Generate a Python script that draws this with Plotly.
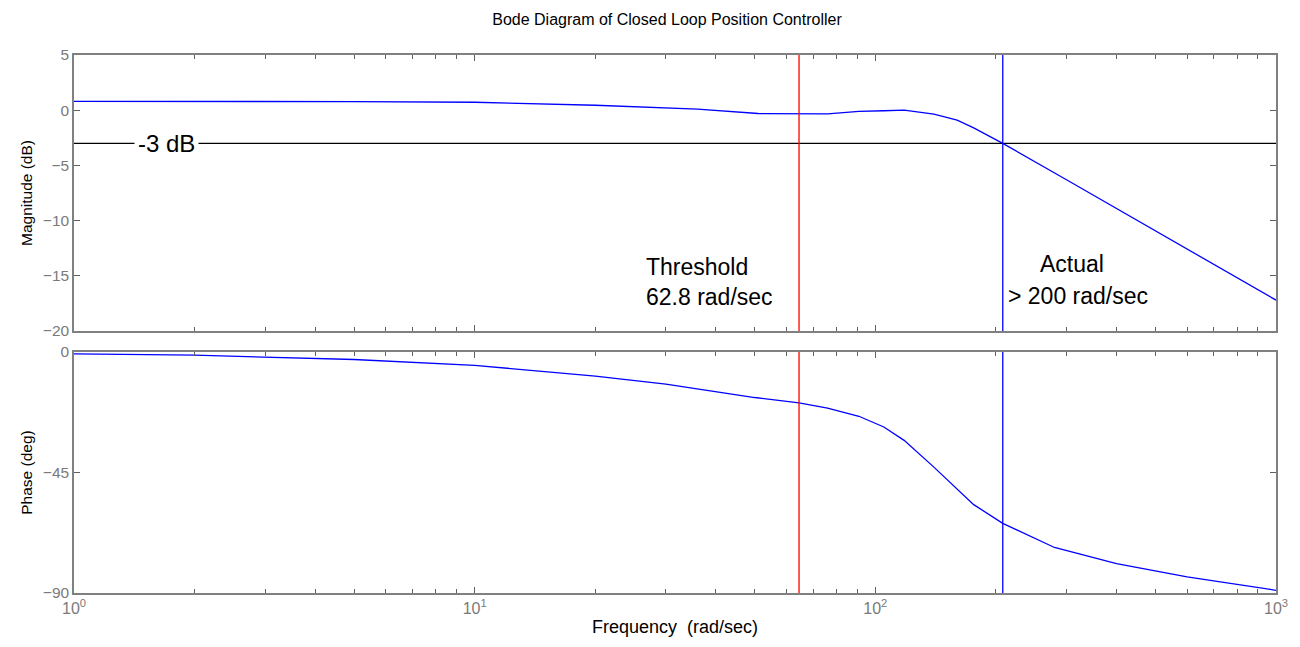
import plotly.graph_objects as go
from plotly.subplots import make_subplots

# ---- data ----
mag_freq = [1, 2, 5, 10, 20, 36, 51, 76, 91, 105, 118, 140, 160, 176, 208, 300, 500, 700, 1000]
mag_db = [0.8, 0.8, 0.78, 0.72, 0.45, 0.1, -0.3, -0.34, -0.1, -0.05, 0.0, -0.36, -0.9, -1.6, -3.0, -6.3, -10.9, -14.0, -17.2]

ph_freq = [1, 2, 5, 10, 20, 30, 50, 64.5, 76, 91, 105, 118, 140, 176, 208, 280, 400, 600, 1000]
ph_deg = [-0.7, -1.2, -2.8, -5, -9, -12, -17, -19, -21, -24, -28, -33, -43, -57, -64, -73, -79, -84, -89]

threshold_freq = 64.5   # red marker line as drawn
actual_freq = 208       # blue marker line as drawn
cutoff_db = -3

x_major = [1, 10, 100, 1000]
x_major_text = ["10<sup>0</sup>", "10<sup>1</sup>", "10<sup>2</sup>", "10<sup>3</sup>"]
x_minor = [m * d for d in (1, 10, 100) for m in range(2, 10)]
mag_ticks = [5, 0, -5, -10, -15, -20]
ph_ticks = [0, -45, -90]

FONT = "Liberation Sans, Arial, sans-serif"
AX = "#808080"
TICKC = "#606060"

fig = make_subplots(rows=2, cols=1, shared_xaxes=False, vertical_spacing=0)

# magnitude
fig.add_trace(go.Scatter(x=[1, 1000], y=[cutoff_db, cutoff_db], mode="lines",
                         line=dict(color="black", width=1.3)), row=1, col=1)
fig.add_trace(go.Scatter(x=mag_freq, y=mag_db, mode="lines",
                         line=dict(color="#0000FF", width=1.3)), row=1, col=1)
fig.add_trace(go.Scatter(x=[threshold_freq, threshold_freq], y=[-20, 5], mode="lines",
                         line=dict(color="#FF0000", width=1.3)), row=1, col=1)
fig.add_trace(go.Scatter(x=[actual_freq, actual_freq], y=[-20, 5], mode="lines",
                         line=dict(color="#0000FF", width=1.3)), row=1, col=1)

# phase
fig.add_trace(go.Scatter(x=ph_freq, y=ph_deg, mode="lines",
                         line=dict(color="#0000FF", width=1.3)), row=2, col=1)
fig.add_trace(go.Scatter(x=[threshold_freq, threshold_freq], y=[-90, 0], mode="lines",
                         line=dict(color="#FF0000", width=1.3)), row=2, col=1)
fig.add_trace(go.Scatter(x=[actual_freq, actual_freq], y=[-90, 0], mode="lines",
                         line=dict(color="#0000FF", width=1.3)), row=2, col=1)

common_x = dict(type="log", range=[0, 3], showgrid=False, zeroline=False,
                showline=True, linecolor=AX, linewidth=1.5, mirror="ticks",
                ticks="inside", ticklen=6, tickcolor=TICKC, tickwidth=1,
                tickvals=x_major, ticktext=x_major_text,
                minor=dict(tickvals=x_minor, ticks="inside", ticklen=4,
                           tickcolor=TICKC, tickwidth=1, showgrid=False),
                tickfont=dict(family=FONT, size=16, color="#7a7a7a"))
common_y = dict(showgrid=False, zeroline=False, showline=True, linecolor=AX,
                linewidth=1.5, mirror="ticks", ticks="inside", ticklen=6,
                tickcolor=TICKC, tickwidth=1,
                tickfont=dict(family=FONT, size=15.5, color="#7a7a7a"))

top_dom = [(593 - 331) / 538, 1.0]
bot_dom = [0.0, (593 - 352) / 538]

fig.update_layout(
    width=1300, height=647,
    margin=dict(l=74, r=21, t=55, b=54),
    paper_bgcolor="white", plot_bgcolor="white",
    showlegend=False,
    font=dict(family=FONT, color="black"),
    title=dict(text="Bode Diagram of Closed Loop Position Controller",
               x=(482 + 852) / 2 / 1300, xanchor="center",
               y=1 - 19 / 647, yanchor="middle", yref="container",
               font=dict(family=FONT, size=16, color="black")),
    xaxis=dict(common_x, showticklabels=False, anchor="y"),
    yaxis=dict(common_y, domain=top_dom, range=[-20, 5], tickvals=mag_ticks,
               title=dict(text="Magnitude (dB)", font=dict(family=FONT, size=15.5, color="black"), standoff=6)),
    xaxis2=dict(common_x, anchor="y2",
                title=dict(text="Frequency  (rad/sec)", font=dict(family=FONT, size=18, color="black"), standoff=4)),
    yaxis2=dict(common_y, domain=bot_dom, range=[-90, 0], tickvals=ph_ticks,
                title=dict(text="Phase (deg)", font=dict(family=FONT, size=15.5, color="black"), standoff=6)),
)

ann_font = dict(family=FONT, size=23, color="black")
fig.add_annotation(x=0.232, y=cutoff_db, xref="x", yref="y", text="-3 dB",
                   showarrow=False, bgcolor="white", font=dict(family=FONT, size=24, color="black"), borderpad=3)
fig.add_annotation(x=1.423, y=-14.2, xref="x", yref="y", text="Threshold",
                   showarrow=False, xanchor="left", yanchor="middle", font=ann_font)
fig.add_annotation(x=1.423, y=-16.9, xref="x", yref="y", text="62.8 rad/sec",
                   showarrow=False, xanchor="left", yanchor="middle", font=ann_font)
fig.add_annotation(x=2.407, y=-13.9, xref="x", yref="y", text="Actual",
                   showarrow=False, xanchor="left", yanchor="middle", font=ann_font)
fig.add_annotation(x=2.325, y=-16.8, xref="x", yref="y", text="> 200 rad/sec",
                   showarrow=False, xanchor="left", yanchor="middle", font=ann_font)

fig.write_html("out.html")
